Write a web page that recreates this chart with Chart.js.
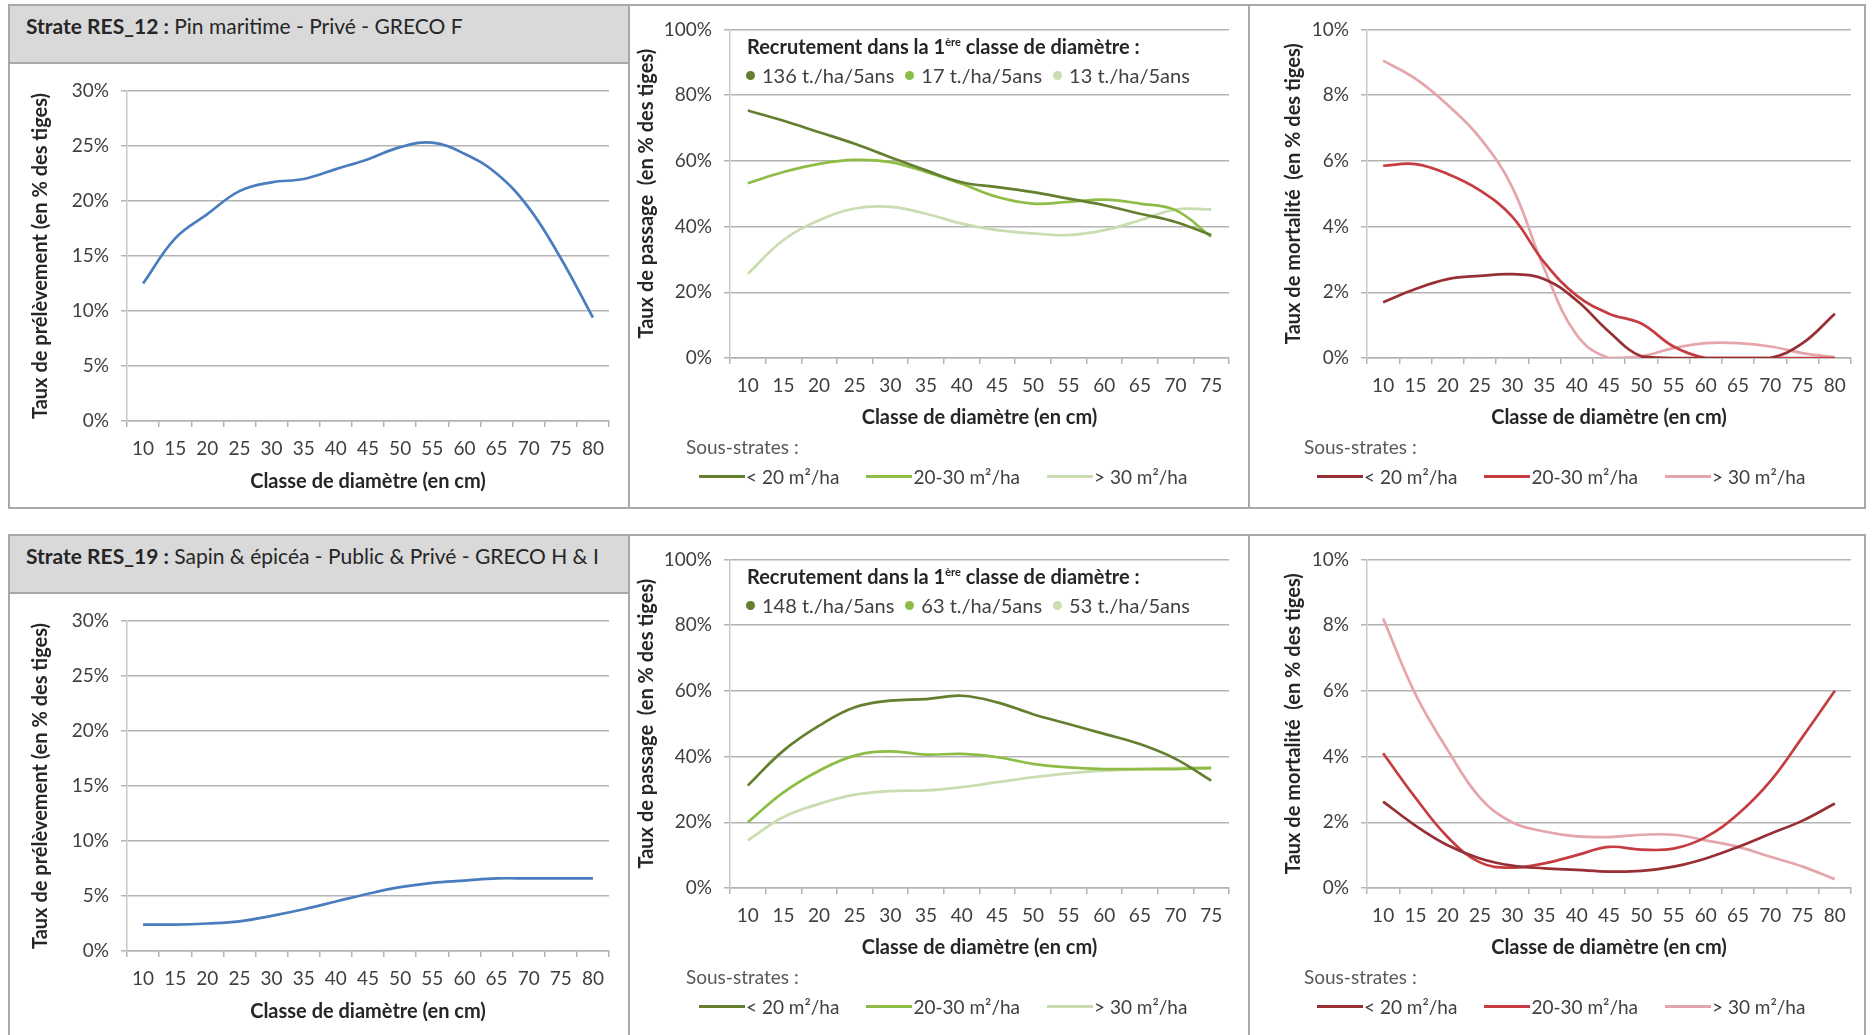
<!DOCTYPE html>
<html lang="fr">
<head>
<meta charset="utf-8">
<title>Prélèvement, passage et mortalité par classe de diamètre</title>
<script src="https://cdn.jsdelivr.net/npm/chart.js@4.4.1/dist/chart.umd.min.js"></script>
<style>
  html, body { margin: 0; padding: 0; }
  body { width: 1872px; height: 1035px; overflow: hidden; background: #fff; position: relative;
         font-family: Lato, "Noto Sans", sans-serif; color: #333; }
  .box { position: absolute; border: 2px solid #a8a8a8; box-sizing: border-box; }
  .vline { position: absolute; width: 2px; background: #a8a8a8; }
  .header { position: absolute; background: #d9d9d9; border-bottom: 2px solid #a8a8a8; box-sizing: border-box; }
  .header span { position: absolute; left: 16px; font-size: 21px; line-height: 24px; color: #262626; white-space: nowrap; }
  canvas { position: absolute; }
  .txt { position: absolute; white-space: nowrap; z-index: 2; }
  .recru-title { font-size: 20px; font-weight: bold; line-height: 24px; color: #262626; }
  .recru-title sup { font-size: 11px; vertical-align: 8px; line-height: 0; }
  .recru-vals { font-size: 20px; line-height: 24px; color: #404040; display: flex; gap: 11px; }
  .dot { display: inline-block; width: 9px; height: 9px; border-radius: 50%; margin-right: 7px; vertical-align: 3px; }
  .lg-title { font-size: 19px; line-height: 24px; color: #595959; }
  .lg-items { font-size: 19px; line-height: 24px; color: #404040; display: flex; gap: 27px; }
  .lg-line { display: inline-block; width: 46px; height: 3px; vertical-align: 6px; margin-right: 1px; }
</style>
</head>
<body>
<script>
// diameter classes (cm)
const diametres80 = ['10', '15', '20', '25', '30', '35', '40', '45', '50', '55', '60', '65', '70', '75', '80'];
const diametres75 = ['10', '15', '20', '25', '30', '35', '40', '45', '50', '55', '60', '65', '70', '75'];

const sousStrates = ['< 20 m²/ha', '20-30 m²/ha', '> 30 m²/ha'];

const strateCodes = ['RES_12', 'RES_19'];
const strateLibelles = ['Pin maritime - Privé - GRECO F', 'Sapin & épicéa - Public & Privé - GRECO H & I'];

// recruitment in the first diameter class, stems/ha/5 years, per sub-stratum
const recrutementRes12 = [136, 17, 13];
const recrutementRes19 = [148, 63, 53];

// harvest rate (% of stems)
const prelevementRes12 = [12.5, 16.6, 18.8, 20.9, 21.7, 22.0, 22.9, 23.8, 24.9, 25.3, 24.3, 22.5, 19.4, 14.8, 9.4];
const prelevementRes19 = [2.4, 2.4, 2.5, 2.7, 3.2, 3.8, 4.5, 5.2, 5.8, 6.2, 6.4, 6.6, 6.6, 6.6, 6.6];

// ingrowth rate (% of stems), one array per sub-stratum
const passageRes12Moins20 = [75.3, 72.2, 68.7, 65.2, 61.1, 57.1, 53.5, 52.0, 50.5, 48.5, 46.5, 43.9, 41.4, 37.4];
const passageRes12De20a30 = [53.2, 56.6, 59.1, 60.3, 59.6, 56.6, 53.0, 49.0, 47.0, 47.5, 48.2, 47.0, 45.0, 36.9];
const passageRes12Plus30 = [25.6, 35.9, 41.9, 45.5, 46.0, 43.9, 40.9, 38.9, 37.9, 37.4, 38.9, 41.9, 45.2, 45.2];
const passageRes19Moins20 = [31.2, 41.8, 49.4, 55.0, 57.0, 57.5, 58.5, 56.5, 52.9, 49.9, 46.9, 43.8, 39.3, 32.7];
const passageRes19De20a30 = [20.0, 29.1, 35.7, 40.3, 41.6, 40.6, 40.8, 39.8, 37.8, 36.7, 36.2, 36.2, 36.2, 36.5];
const passageRes19Plus30 = [14.5, 21.6, 25.6, 28.4, 29.5, 29.7, 30.7, 32.2, 33.7, 34.9, 35.7, 36.2, 36.5, 36.7];

// mortality rate (% of stems)
const mortaliteRes12Moins20 = [1.7, 2.1, 2.4, 2.5, 2.55, 2.4, 1.75, 0.8, 0.05, 0, 0, 0, 0, 0.45, 1.35];
const mortaliteRes12De20a30 = [5.85, 5.9, 5.6, 5.1, 4.3, 2.9, 1.9, 1.35, 1.05, 0.35, 0, 0, 0, 0, 0];
const mortaliteRes12Plus30 = [9.05, 8.5, 7.7, 6.7, 5.2, 2.7, 0.7, 0, 0.05, 0.3, 0.45, 0.45, 0.35, 0.15, 0.02];
const mortaliteRes19Moins20 = [2.63, 1.9, 1.3, 0.9, 0.68, 0.6, 0.55, 0.5, 0.52, 0.65, 0.9, 1.25, 1.65, 2.05, 2.57];
const mortaliteRes19De20a30 = [4.1, 2.75, 1.55, 0.78, 0.62, 0.75, 1.0, 1.25, 1.17, 1.2, 1.55, 2.25, 3.25, 4.6, 6.0];
const mortaliteRes19Plus30 = [8.2, 5.9, 4.2, 2.75, 2.0, 1.72, 1.57, 1.55, 1.62, 1.62, 1.45, 1.25, 0.95, 0.65, 0.27];

const bleu = '#4a7dbd';
const verts = ['#637f2f', '#8dbd45', '#c9ddb0'];
const rouges = ['#972f34', '#c53d41', '#e4a6ab'];

const GRID = '#b3b3b3';
const TICK = '#3f3f3f';
const TITLE = '#262626';
const TITLE_SIZE = 20;
const ROW_SHIFT = 530;

// panel columns: canvas box (x, w), plot left/right, y-title centre
const COLS = [
  { x: 10, w: 618, left: 127, right: 609, yTitleX: 41 },
  { x: 630, w: 618, left: 730, right: 1229, yTitleX: 647 },
  { x: 1250, w: 614, left: 1367, right: 1851, yTitleX: 1294 }
];
// vertical layout for the first row; the second row is shifted down
const ROWS_V = [
  { y: 65, h: 443, top: 91, bottom: 421, xTitleY: 482 },
  { y: 6, h: 502, top: 28, bottom: 358, xTitleY: 418 },
  { y: 6, h: 502, top: 28, bottom: 358, xTitleY: 418 }
];

Chart.defaults.font.family = 'Lato, "Noto Sans", sans-serif';

function el(tag, cls, style, parent) {
  const e = document.createElement(tag);
  if (cls) e.className = cls;
  Object.assign(e.style, style || {});
  (parent || document.body).appendChild(e);
  return e;
}

function px(v) { return v + 'px'; }

function frame(row) {
  const dy = row * ROW_SHIFT;
  el('div', 'box', { left: px(8), top: px(4 + dy), width: px(1858), height: px(row ? 520 : 505) });
  el('div', 'vline', { left: px(628), top: px(4 + dy), height: px(row ? 520 : 505) });
  el('div', 'vline', { left: px(1248), top: px(4 + dy), height: px(row ? 520 : 505) });
  const h = el('div', 'header', { left: px(10), top: px(6 + dy), width: px(618), height: px(58) });
  const s = el('span', null, { top: px(8) }, h);
  const b = document.createElement('b');
  b.textContent = 'Strate ' + strateCodes[row] + ' :';
  s.appendChild(b);
  s.appendChild(document.createTextNode(' ' + strateLibelles[row]));
}

function lineChart(row, col, labels, datasets, yMax, yStep, yTitle) {
  const c = COLS[col];
  const v = ROWS_V[col];
  const dy = row * ROW_SHIFT;
  const g = {
    x: c.x, w: c.w, left: c.left, right: c.right, yTitleX: c.yTitleX,
    y: v.y + dy, h: v.h, top: v.top + dy, bottom: v.bottom + dy, xTitleY: v.xTitleY + dy
  };
  const canvas = el('canvas', null, { left: px(g.x), top: px(g.y), width: px(g.w), height: px(g.h) });
  canvas.width = g.w;
  canvas.height = g.h;
  const lh = TITLE_SIZE * 1.2;
  const padLeft = g.yTitleX - lh / 2 - g.x;
  const titleFont = { size: TITLE_SIZE, weight: 'bold' };
  return new Chart(canvas, {
    type: 'line',
    data: { labels: labels, datasets: datasets },
    options: {
      responsive: false,
      animation: false,
      layout: {
        padding: {
          left: padLeft,
          top: g.top - g.y,
          right: g.x + g.w - g.right,
          bottom: g.y + g.h - (g.xTitleY + lh / 2)
        }
      },
      plugins: { legend: { display: false }, tooltip: { enabled: false } },
      elements: {
        point: { radius: 0 },
        line: { borderWidth: 2.7, tension: 0.4, fill: false }
      },
      scales: {
        x: {
          offset: true,
          grid: { offset: true, drawOnChartArea: false, tickLength: 6, color: GRID, lineWidth: 1.5 },
          border: { color: GRID, width: 1.5 },
          ticks: { padding: 10, color: TICK, font: { size: 19 }, maxRotation: 0, autoSkip: false },
          title: { display: true, text: 'Classe de diamètre (en cm)', padding: 0, color: TITLE, font: titleFont },
          afterFit: s => { s.height = g.xTitleY + lh / 2 - g.bottom; }
        },
        y: {
          min: 0,
          max: yMax,
          ticks: { stepSize: yStep, padding: 12, color: TICK, font: { size: 19 }, callback: val => val + '%' },
          grid: { color: GRID, lineWidth: 1.5, tickLength: 6 },
          border: { color: '#c8c8c8', width: 1.5 },
          title: { display: true, text: yTitle, padding: 0, color: TITLE, font: titleFont },
          afterFit: s => { s.width = g.left - g.x - padLeft; }
        }
      }
    }
  });
}

function series(values, colors) {
  return values.map((data, i) => ({ label: sousStrates[i], data: data, borderColor: colors[i] }));
}

function legend(row, col, colors) {
  const dy = row * ROW_SHIFT;
  const x = col === 1 ? 686 : 1304;
  const t = el('div', 'txt lg-title', { left: px(x), top: px(435 + dy) });
  t.textContent = 'Sous-strates :';
  const items = el('div', 'txt lg-items', { left: px(x + 13), top: px(465 + dy) });
  sousStrates.forEach((name, i) => {
    const it = el('span', null, {}, items);
    el('span', 'lg-line', { background: colors[i] }, it);
    it.appendChild(document.createTextNode(name));
  });
}

function recrutement(row, values) {
  const dy = row * ROW_SHIFT;
  const t = el('div', 'txt recru-title', { left: px(747), top: px(34 + dy) });
  t.innerHTML = 'Recrutement dans la 1<sup>ère</sup> classe de diamètre :';
  const vals = el('div', 'txt recru-vals', { left: px(746), top: px(63 + dy) });
  values.forEach((n, i) => {
    const it = el('span', null, {}, vals);
    el('span', 'dot', { background: verts[i] }, it);
    it.appendChild(document.createTextNode(n + ' t./ha/5ans'));
  });
}

frame(0);
frame(1);

const prelevements = [prelevementRes12, prelevementRes19];
const passages = [
  [passageRes12Moins20, passageRes12De20a30, passageRes12Plus30],
  [passageRes19Moins20, passageRes19De20a30, passageRes19Plus30]
];
const mortalites = [
  [mortaliteRes12Moins20, mortaliteRes12De20a30, mortaliteRes12Plus30],
  [mortaliteRes19Moins20, mortaliteRes19De20a30, mortaliteRes19Plus30]
];
const recrutements = [recrutementRes12, recrutementRes19];

[0, 1].forEach(row => {
  lineChart(row, 0, diametres80,
    [{ label: 'Prélèvement', data: prelevements[row], borderColor: bleu }],
    30, 5, 'Taux de prélèvement (en % des tiges)');
  lineChart(row, 1, diametres75, series(passages[row], verts),
    100, 20, 'Taux de passage  (en % des tiges)');
  lineChart(row, 2, diametres80, series(mortalites[row], rouges),
    10, 2, 'Taux de mortalité  (en % des tiges)');
  recrutement(row, recrutements[row]);
  legend(row, 1, verts);
  legend(row, 2, rouges);
});
</script>
</body>
</html>
